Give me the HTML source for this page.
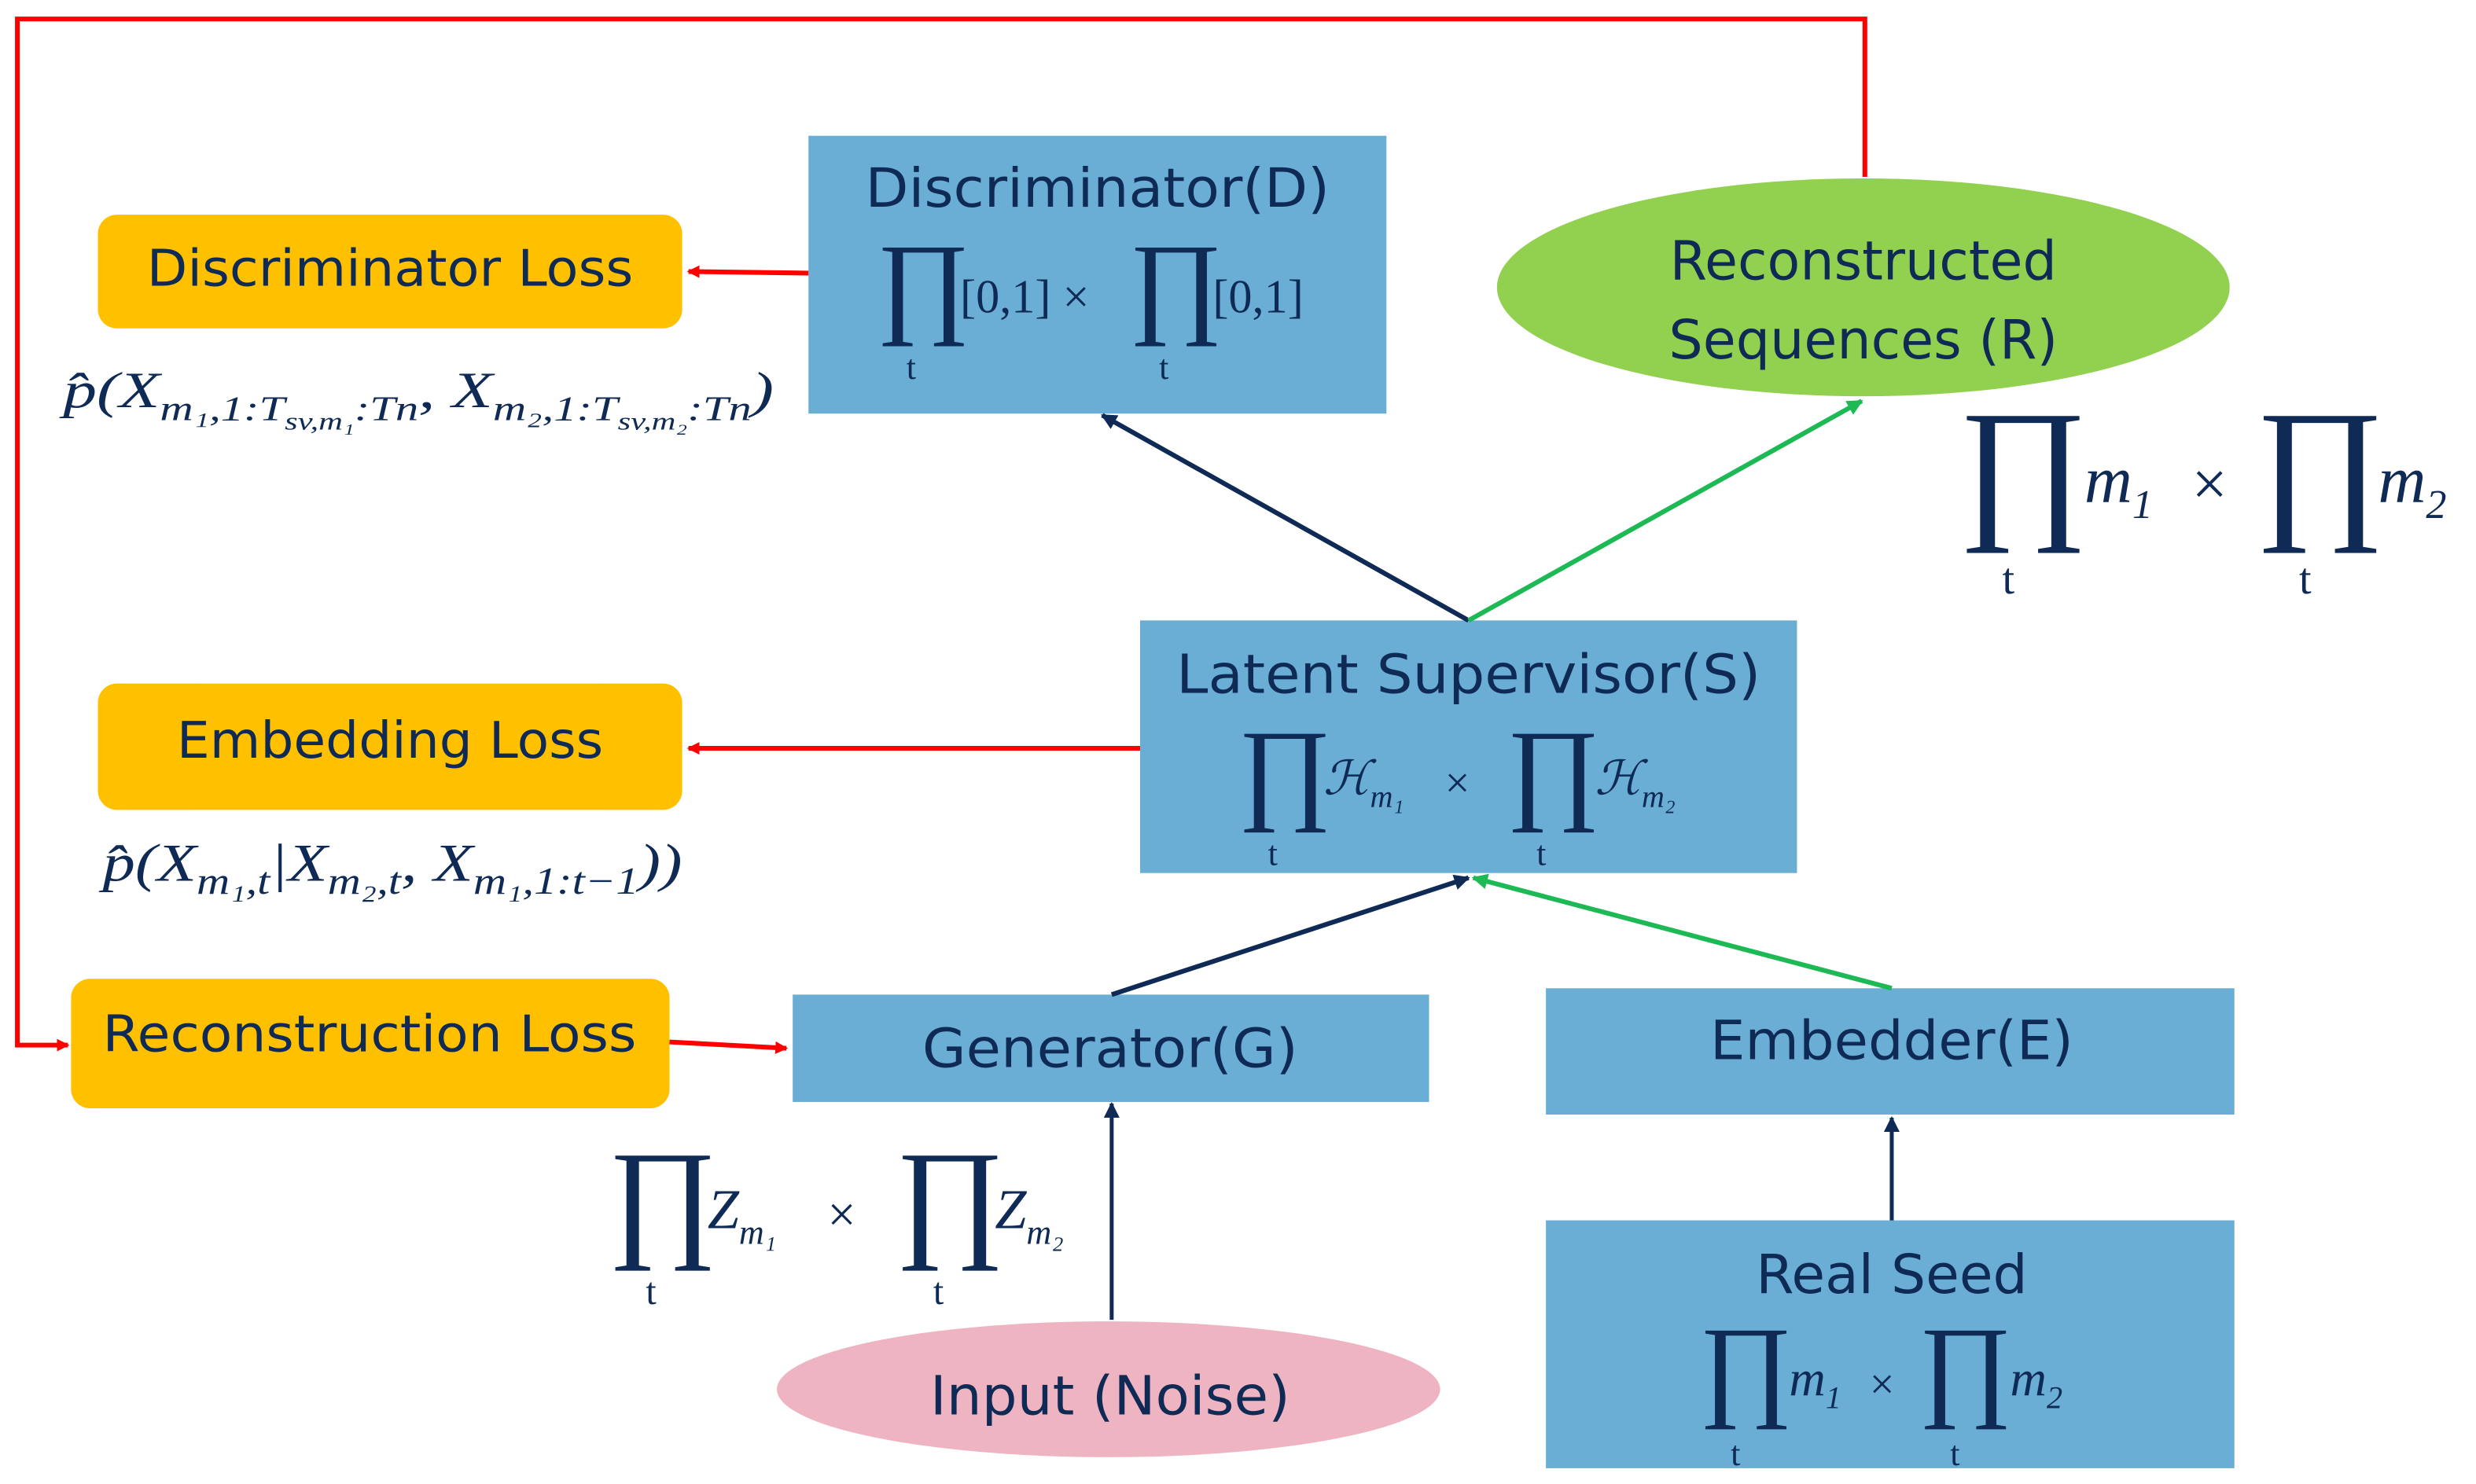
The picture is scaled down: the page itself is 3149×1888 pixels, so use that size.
<!DOCTYPE html>
<html><head><meta charset="utf-8"><style>
html,body{margin:0;padding:0;background:#fff;}
svg{display:block;}
text{font-family:"DejaVu Sans","Liberation Sans",sans-serif;fill:#0E2A55;}
.m{font-family:"Liberation Serif",serif;font-style:italic;fill:#0E2A55;}
.r{font-family:"Liberation Serif",serif;fill:#0E2A55;}
.big{font-family:"Liberation Serif",serif;fill:#0E2A55;}
</style></head><body>
<svg width="3149" height="1888" viewBox="0 0 1568 940" preserveAspectRatio="none" xmlns="http://www.w3.org/2000/svg">
<defs>
<marker id="ar" markerWidth="8" markerHeight="8" refX="7" refY="4" orient="auto" markerUnits="userSpaceOnUse"><path d="M0,0 L8,4 L0,8 Z" fill="#FF0000"/></marker>
<marker id="an" markerWidth="10" markerHeight="10" refX="9" refY="5" orient="auto" markerUnits="userSpaceOnUse"><path d="M0,0 L10,5 L0,10 Z" fill="#0E2A55"/></marker>
<marker id="ag" markerWidth="10" markerHeight="10" refX="9" refY="5" orient="auto" markerUnits="userSpaceOnUse"><path d="M0,0 L10,5 L0,10 Z" fill="#1DB954"/></marker>
</defs>
<polyline points="1181,112 1181,12 11,12 11,662 43,662" fill="none" stroke="#FF0000" stroke-width="3" marker-end="url(#ar)"/>
<rect x="512" y="86" width="366" height="176" fill="#6AAED6"/>
<rect x="722" y="393" width="416" height="160" fill="#6AAED6"/>
<rect x="502" y="630" width="403" height="68" fill="#6AAED6"/>
<rect x="979" y="626" width="436" height="80" fill="#6AAED6"/>
<rect x="979" y="773" width="436" height="157" fill="#6AAED6"/>
<rect x="62" y="136" width="370" height="72" rx="12" fill="#FFC000"/>
<rect x="62" y="433" width="370" height="80" rx="12" fill="#FFC000"/>
<rect x="45" y="620" width="379" height="82" rx="12" fill="#FFC000"/>
<ellipse cx="1180" cy="182" rx="232" ry="69" fill="#92D050"/>
<ellipse cx="702" cy="880" rx="210" ry="43" fill="#EEB4C2"/>
<line x1="512" y1="173" x2="436" y2="172" stroke="#FF0000" stroke-width="3" marker-end="url(#ar)"/>
<line x1="722" y1="474" x2="436" y2="474" stroke="#FF0000" stroke-width="3" marker-end="url(#ar)"/>
<line x1="424" y1="660" x2="498" y2="664" stroke="#FF0000" stroke-width="3" marker-end="url(#ar)"/>
<line x1="930" y1="393" x2="698" y2="263" stroke="#0E2A55" stroke-width="3" marker-end="url(#an)"/>
<line x1="930" y1="393" x2="1179" y2="254" stroke="#1DB954" stroke-width="3" marker-end="url(#ag)"/>
<line x1="704" y1="630" x2="930" y2="556" stroke="#0E2A55" stroke-width="3" marker-end="url(#an)"/>
<line x1="1198" y1="626" x2="933" y2="556" stroke="#1DB954" stroke-width="3" marker-end="url(#ag)"/>
<line x1="704" y1="836" x2="704" y2="699" stroke="#0E2A55" stroke-width="2.5" marker-end="url(#an)"/>
<line x1="1198" y1="773" x2="1198" y2="708" stroke="#0E2A55" stroke-width="2.5" marker-end="url(#an)"/>
<text x="695" y="131" font-size="34" text-anchor="middle" textLength="294" lengthAdjust="spacingAndGlyphs">Discriminator(D)</text>
<text x="247" y="181" font-size="32" text-anchor="middle" textLength="308" lengthAdjust="spacingAndGlyphs">Discriminator Loss</text>
<text x="1180" y="177" font-size="34" text-anchor="middle">Reconstructed</text>
<text x="1180" y="227" font-size="34" text-anchor="middle">Sequences (R)</text>
<text x="930" y="439" font-size="34" text-anchor="middle" textLength="370" lengthAdjust="spacingAndGlyphs">Latent Supervisor(S)</text>
<text x="247" y="480" font-size="32" text-anchor="middle" textLength="270" lengthAdjust="spacingAndGlyphs">Embedding Loss</text>
<text x="234" y="666" font-size="32" text-anchor="middle" textLength="338" lengthAdjust="spacingAndGlyphs">Reconstruction Loss</text>
<text x="703" y="676" font-size="34" text-anchor="middle" textLength="238" lengthAdjust="spacingAndGlyphs">Generator(G)</text>
<text x="1198" y="671" font-size="34" text-anchor="middle" textLength="230" lengthAdjust="spacingAndGlyphs">Embedder(E)</text>
<text x="1198" y="819" font-size="34" text-anchor="middle" textLength="172" lengthAdjust="spacingAndGlyphs">Real Seed</text>
<text x="703" y="896" font-size="34" text-anchor="middle" textLength="228" lengthAdjust="spacingAndGlyphs">Input (Noise)</text>
<g>
<text class="big" x="555" y="204" font-size="72">∏</text><text class="r" x="608" y="198" font-size="30">[0,1] ×</text>
<text class="big" x="715" y="204" font-size="72">∏</text><text class="r" x="768" y="198" font-size="30">[0,1]</text>
<text class="r" x="574" y="240" font-size="22">t</text><text class="r" x="734" y="240" font-size="22">t</text>
</g>
<g>
<text class="big" x="784" y="512" font-size="72">∏</text><text class="m" x="838" y="503" font-size="30">ℋ<tspan font-size="20" dy="8">m₁</tspan></text><text class="r" x="915" y="505" font-size="28">×</text>
<text class="big" x="954" y="512" font-size="72">∏</text><text class="m" x="1010" y="503" font-size="30">ℋ<tspan font-size="20" dy="8">m₂</tspan></text>
<text class="r" x="803" y="548" font-size="22">t</text><text class="r" x="973" y="548" font-size="22">t</text>
</g>
<g>
<text class="big" x="1240" y="329" font-size="100">∏</text><text class="m" x="1320" y="318" font-size="42">m<tspan font-size="26" dy="10">1</tspan></text><text class="r" x="1388" y="320" font-size="40">×</text>
<text class="big" x="1428" y="329" font-size="100">∏</text><text class="m" x="1506" y="318" font-size="42">m<tspan font-size="26" dy="10">2</tspan></text>
<text class="r" x="1268" y="376" font-size="28">t</text><text class="r" x="1456" y="376" font-size="28">t</text>
</g>
<g>
<text class="big" x="385" y="787" font-size="84">∏</text><text class="m" x="448" y="778" font-size="36">Z<tspan font-size="22" dy="10">m₁</tspan></text><text class="r" x="524" y="780" font-size="32">×</text>
<text class="big" x="567" y="787" font-size="84">∏</text><text class="m" x="630" y="778" font-size="36">Z<tspan font-size="22" dy="10">m₂</tspan></text>
<text class="r" x="409" y="826" font-size="24">t</text><text class="r" x="591" y="826" font-size="24">t</text>
</g>
<g>
<text class="big" x="1076" y="890" font-size="72">∏</text><text class="m" x="1133" y="884" font-size="32">m<tspan font-size="20" dy="8">1</tspan></text><text class="r" x="1184" y="886" font-size="28">×</text>
<text class="big" x="1215" y="890" font-size="72">∏</text><text class="m" x="1273" y="884" font-size="32">m<tspan font-size="20" dy="8">2</tspan></text>
<text class="r" x="1096" y="928" font-size="22">t</text><text class="r" x="1235" y="928" font-size="22">t</text>
</g>
<text class="m" x="40" y="258" font-size="32" textLength="450" lengthAdjust="spacingAndGlyphs">p̂(X<tspan font-size="22" dy="8">m₁,1:T</tspan><tspan font-size="16" dy="6">sv,m₁</tspan><tspan font-size="22" dy="-6">:Tn</tspan><tspan dy="-8">, X</tspan><tspan font-size="22" dy="8">m₂,1:T</tspan><tspan font-size="16" dy="6">sv,m₂</tspan><tspan font-size="22" dy="-6">:Tn</tspan><tspan dy="-8">)</tspan></text>
<text class="m" x="65" y="558" font-size="34" textLength="367" lengthAdjust="spacingAndGlyphs">p̂(X<tspan font-size="24" dy="8">m₁,t</tspan><tspan dy="-8">|X</tspan><tspan font-size="24" dy="8">m₂,t</tspan><tspan dy="-8">, X</tspan><tspan font-size="24" dy="8">m₁,1:t−1</tspan><tspan dy="-8">))</tspan></text>
</svg>
</body></html>
